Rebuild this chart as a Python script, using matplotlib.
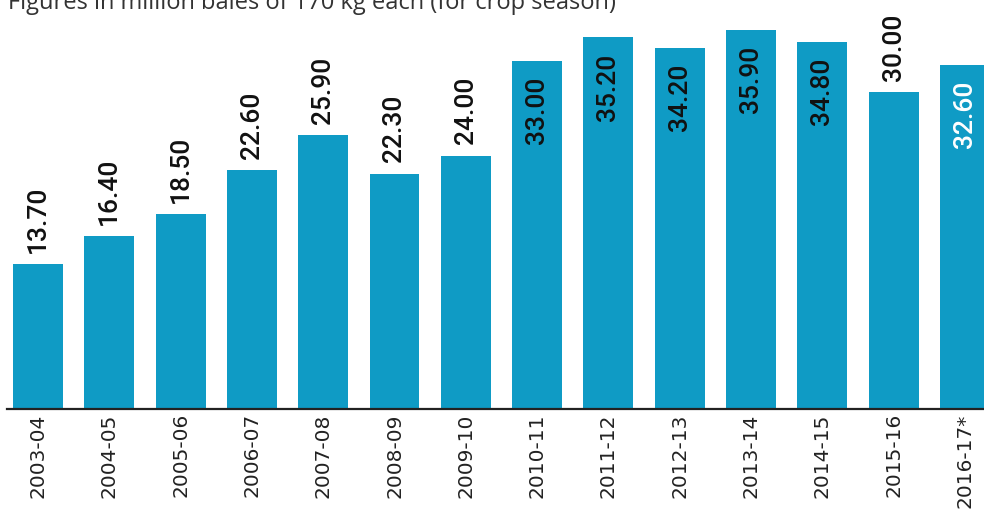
import numpy as np
import matplotlib
matplotlib.use('Agg')
import matplotlib.pyplot as plt

seasons = ['2003-04', '2004-05', '2005-06', '2006-07', '2007-08', '2008-09', '2009-10',
           '2010-11', '2011-12', '2012-13', '2013-14', '2014-15', '2015-16', '2016-17*']
output = [13.70, 16.40, 18.50, 22.60, 25.90, 22.30, 24.00,
          33.00, 35.20, 34.20, 35.90, 34.80, 30.00, 32.60]
# where the value sits: 'out' above bar, 'in' inside the bar top
label_pos = ['out'] * 7 + ['in'] * 5 + ['out', 'in']
label_col = ['#111111'] * 13 + ['white']

bar_color = '#0f9bc5'
W, H = 984, 514
num_font = ['Roboto', 'DejaVu Sans']

fig = plt.figure(figsize=(W / 100, H / 100), dpi=100)

# pixel geometry
left_px, base_px = 7, 409
c0_px, pitch_px = 38, 71.3
px_per_unit = 10.56

ax = fig.add_axes([left_px / W, (H - base_px) / H, 1 - left_px / W, base_px / H])
x = np.arange(len(seasons))
ax.bar(x, output, width=0.70, color=bar_color, zorder=2)

ax.set_xlim((left_px - c0_px) / pitch_px, (W - c0_px) / pitch_px)
ax.set_ylim(0, base_px / px_per_unit)

for sp in ['top', 'right', 'left']:
    ax.spines[sp].set_visible(False)
ax.spines['bottom'].set_linewidth(1.6)
ax.spines['bottom'].set_color('#222222')
ax.set_yticks([])
ax.set_xticks(x)
ax.set_xticklabels(seasons, rotation=90, fontsize=14.5, family='DejaVu Sans', color='#222222')
ax.tick_params(axis='x', length=0, pad=3)

for i, v in enumerate(output):
    if label_pos[i] == 'out':
        ax.annotate(f'{v:.2f}', (i, v), xytext=(0, 8), textcoords='offset points',
                    rotation=90, ha='center', va='bottom', fontsize=19,
                    family=num_font, weight='medium', color=label_col[i])
    else:
        ax.annotate(f'{v:.2f}', (i, v), xytext=(0, -11.5), textcoords='offset points',
                    rotation=90, ha='center', va='top', fontsize=19,
                    family=num_font, weight='medium', color=label_col[i])

fig.text(8 / W, 1 - 9 / H, 'Figures in million bales of 170 kg each (for crop season)',
         ha='left', va='baseline', fontsize=17, family=['Open Sans', 'DejaVu Sans'],
         color='#333333')

fig.savefig('out.png', dpi=100)
